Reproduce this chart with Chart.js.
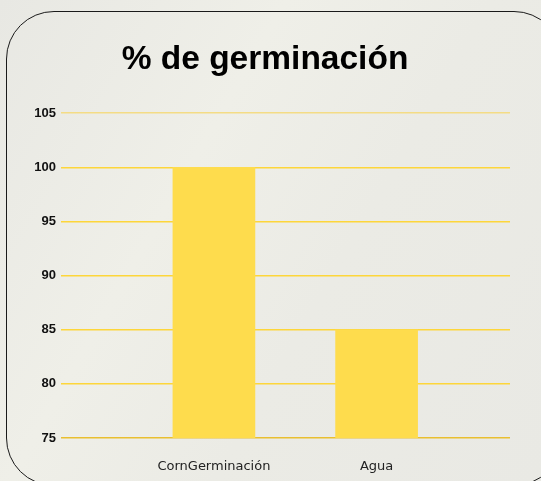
<!DOCTYPE html>
<html>
<head>
<meta charset="utf-8">
<script src="https://cdn.jsdelivr.net/npm/chart.js@4/dist/chart.umd.min.js"></script>
<style>
  html, body { margin: 0; padding: 0; }
  body {
    width: 541px; height: 481px; overflow: hidden; position: relative;
    background: linear-gradient(120deg, #e8e8e3 0%, #efefe8 35%, #ebebe5 60%, #e9e9e4 100%);
  }
  #frame {
    position: absolute; left: 6px; top: 11px; width: 556px; height: 475px;
    box-sizing: border-box; border: 1.5px solid #1a1a1a; border-radius: 48px;
  }
  #wrap { position: absolute; left: 0; top: 0; width: 541px; height: 481px; }
</style>
</head>
<body>
<div id="frame"></div>
<div id="wrap"><canvas id="chart"></canvas></div>
<script>
const categories = ["CornGerminación", "Agua"];
const values = [100, 85];
const yTicks = [75, 80, 85, 90, 95, 100, 105];

const canvas = document.getElementById("chart");

// lineas de la cuadricula: 105 mas clara, 75 (base) mas oscura
function gridColor(ctx) {
  const v = ctx.tick && ctx.tick.value;
  if (v === 105) return "#f4dc85";
  if (v === 75) return "#e9bf30";
  return "#fdd63a";
}

new Chart(canvas, {
  type: "bar",
  data: {
    datasets: [
      {
        label: "% de germinación",
        data: values.map((v, i) => ({ x: i + 1, y: v })),
        backgroundColor: "#fedc4d",
        borderWidth: 0,
        barThickness: 82
      }
    ]
  },
  options: {
    responsive: true,
    maintainAspectRatio: false,
    animation: false,
    layout: { padding: { left: 20, right: 31, top: 0, bottom: 0 } },
    plugins: {
      legend: { display: false },
      tooltip: { enabled: false },
      title: {
        display: true,
        text: "% de germinación",
        color: "#000",
        font: { family: "Liberation Sans, Arial, sans-serif", size: 33.5, weight: "bold" },
        padding: { top: 40, bottom: 33 }
      }
    },
    scales: {
      x: {
        type: "linear",
        offset: false,
        min: 0.06,
        max: 2.82,
        afterBuildTicks: (scale) => {
          scale.ticks = categories.map((_, i) => ({ value: i + 1 }));
        },
        afterFit: (scale) => { scale.height = 43; },
        ticks: {
          autoSkip: false,
          maxRotation: 0,
          padding: 21,
          color: "#222",
          font: { family: "DejaVu Sans, sans-serif", size: 13 },
          callback: (value) => categories[value - 1] || ""
        },
        grid: { display: false, drawTicks: false },
        border: { display: false }
      },
      y: {
        min: 75,
        max: 105,
        afterBuildTicks: (scale) => {
          scale.ticks = yTicks.map((v) => ({ value: v }));
        },
        afterFit: (scale) => { scale.width = 41; },
        ticks: {
          padding: 5,
          color: "#111",
          font: { family: "Liberation Sans, Arial, sans-serif", size: 13, weight: "bold" }
        },
        grid: { color: gridColor, lineWidth: 1.5, drawTicks: false },
        border: { display: false }
      }
    }
  }
});
</script>
</body>
</html>
